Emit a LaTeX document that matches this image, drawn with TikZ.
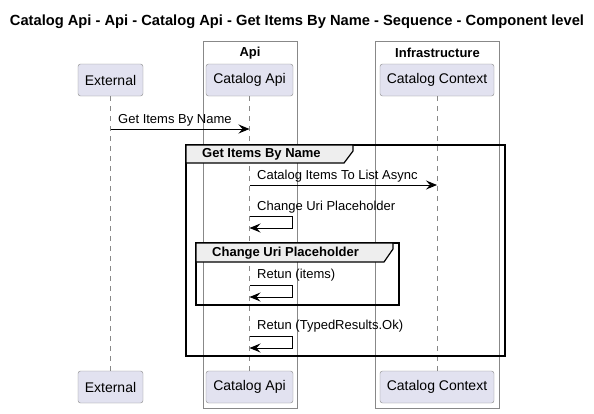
\documentclass[tikz,border=0pt]{standalone}
\usepackage{fontspec}
\setmainfont{Liberation Sans}
\usetikzlibrary{arrows.meta}

\definecolor{partfill}{RGB}{226,226,240}
\definecolor{partline}{RGB}{136,136,136}
\definecolor{tabfill}{RGB}{238,238,238}

\tikzset{
	partecipante/.style={draw=partline, fill=partfill, rounded corners=2.5pt, minimum height=32pt, text centered, inner sep=0pt, font=\fontsize{14}{16}\selectfont},
	gruppo/.style={draw=partline, line width=0.8pt},
	lifeline/.style={draw=partline, dash pattern=on 5pt off 5pt, line width=0.8pt},
	msg/.style={line width=1pt, -{Stealth[length=11pt, width=9pt, inset=4pt]}},
	etichetta/.style={anchor=west, inner sep=0pt, font=\fontsize{13}{15}\selectfont},
	frame/.style={draw=black, line width=1.6pt},
	tab/.style={draw=black, fill=tabfill, line width=1.2pt},
	tabtesto/.style={anchor=west, inner sep=0pt, font=\bfseries\fontsize{13}{15}\selectfont}
}

\begin{document}
\begin{tikzpicture}[x=1pt, y=-1pt]
		
		\useasboundingbox (0,0) rectangle (594,413);
		
		%Titolo
		\node (titolo) at (297,22) [font=\bfseries\fontsize{14.7}{17}\selectfont]{Catalog Api - Api - Catalog Api - Get Items By Name - Sequence - Component level};
		
		%Disegno i riquadri dei gruppi
		\node (gruppoApi) at (250,224.5) [gruppo, minimum width=94pt, minimum height=367pt]{};
		\node (gruppoInfra) at (437.5,224.5) [gruppo, minimum width=124pt, minimum height=367pt]{};
		\node (titoloApi) at (250,53) [font=\bfseries\fontsize{13}{15}\selectfont]{Api};
		\node (titoloInfra) at (437.5,53) [font=\bfseries\fontsize{13}{15}\selectfont]{Infrastructure};
		
		%Disegno i partecipanti in alto
		\node (ext) at (110.5,80) [partecipante, minimum width=65pt]{External};
		\node (api) at (249.5,80) [partecipante, minimum width=87pt]{Catalog Api};
		\node (ctx) at (437,80) [partecipante, minimum width=114pt]{Catalog Context};
		
		%Disegno i partecipanti in basso
		\node (extB) at (110.5,387) [partecipante, minimum width=65pt]{External};
		\node (apiB) at (249.5,387) [partecipante, minimum width=87pt]{Catalog Api};
		\node (ctxB) at (437,387) [partecipante, minimum width=114pt]{Catalog Context};
		
		%Disegno le linee di vita
		\draw[lifeline] (ext) -- (extB);
		\draw[lifeline] (api) -- (apiB);
		\draw[lifeline] (ctx) -- (ctxB);
		
		%Disegno il primo frame
		\draw[frame] (186,145) rectangle (505,356);
		\draw[tab] (186,145) -- (353,145) -- (353,151) -- (344,163) -- (186,163) -- cycle;
		\node (tabUno) at (202,154) [tabtesto]{Get Items By Name};
		
		%Disegno il secondo frame
		\draw[frame] (196,243) rectangle (399,305);
		\draw[tab] (196,243) -- (393,243) -- (393,249) -- (384,262) -- (196,262) -- cycle;
		\node (tabDue) at (212,253) [tabtesto]{Change Uri Placeholder};
		
		%Punti dei messaggi
		\coordinate (getA) at (110.5,129);
		\coordinate (getB) at (249.5,129);
		\coordinate (listA) at (249.5,185);
		\coordinate (listB) at (437,185);
		\coordinate (uriA) at (249.5,216);
		\coordinate (uriB) at (292,216);
		\coordinate (uriC) at (292,228);
		\coordinate (uriD) at (249.5,228);
		\coordinate (itemsA) at (249.5,285);
		\coordinate (itemsB) at (292,285);
		\coordinate (itemsC) at (292,297);
		\coordinate (itemsD) at (249.5,297);
		\coordinate (okA) at (249.5,336);
		\coordinate (okB) at (292,336);
		\coordinate (okC) at (292,348);
		\coordinate (okD) at (249.5,348);
		
		%Disegno i messaggi
		\draw[msg] (getA) -- (getB);
		\node (lblGet) at (118,120) [etichetta]{Get Items By Name};
		
		\draw[msg] (listA) -- (listB);
		\node (lblList) at (257,176) [etichetta]{Catalog Items To List Async};
		
		\draw[msg] (uriA) -- (uriB) -- (uriC) -- (uriD);
		\node (lblUri) at (257,207) [etichetta]{Change Uri Placeholder};
		
		\draw[msg] (itemsA) -- (itemsB) -- (itemsC) -- (itemsD);
		\node (lblItems) at (257,275) [etichetta]{Retun (items)};
		
		\draw[msg] (okA) -- (okB) -- (okC) -- (okD);
		\node (lblOk) at (257,326) [etichetta]{Retun (TypedResults.Ok)};
		
\end{tikzpicture}
\end{document}
